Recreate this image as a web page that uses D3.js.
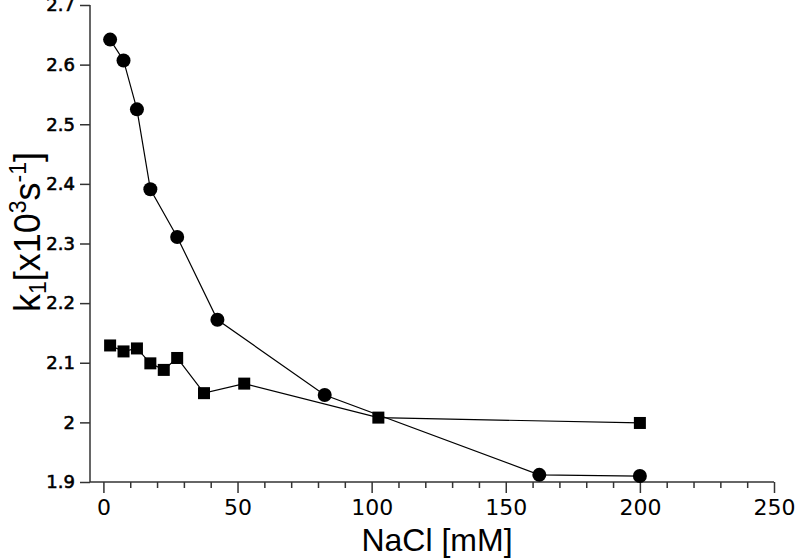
<!DOCTYPE html>
<html>
<head>
<meta charset="utf-8">
<script src="https://cdn.jsdelivr.net/npm/d3@7"></script>
<style>
body { margin: 0; background: #fff; }
svg { display: block; }
</style>
</head>
<body>
<svg id="chart" width="800" height="558"></svg>
<script>
// Data
const circleX = [2.5, 7.5, 12.5, 17.5, 27.5, 42.5, 82.5, 162.5, 200];
const circleY = [2.642, 2.607, 2.525, 2.391, 2.311, 2.172, 2.046, 1.912, 1.910];
const squareX = [2.5, 7.5, 12.5, 17.5, 22.5, 27.5, 37.5, 52.5, 102.5, 200];
const squareY = [2.129, 2.119, 2.124, 2.099, 2.088, 2.108, 2.049, 2.065, 2.008, 1.999];
const xTicks = [0, 50, 100, 150, 200, 250];
const xMinorTicks = d3.range(0, 251, 10);
const yTicks = [1.9, 2.0, 2.1, 2.2, 2.3, 2.4, 2.5, 2.6, 2.7];
const xDomain = [-5, 250];
const yDomain = [1.9, 2.7];

const svg = d3.select("#chart");
const mLeft = 90, mRight = 774, mTop = 5, mBottom = 482;

const x = d3.scaleLinear().domain(xDomain).range([mLeft, mRight]);
const y = d3.scaleLinear().domain(yDomain).range([mBottom, mTop]);

// Y axis
const yAxis = svg.append("g").attr("transform", `translate(${mLeft},0)`)
  .call(d3.axisLeft(y).tickValues(yTicks).tickSize(10).tickPadding(5)
    .tickFormat(d => d === 2 ? "2" : d3.format(".1f")(d)));
yAxis.select(".domain").attr("stroke", "#333").attr("stroke-width", 1.5).attr("d", `M0,${mTop}V${mBottom}`);
yAxis.selectAll(".tick line").attr("stroke", "#333").attr("stroke-width", 1.5);
yAxis.selectAll(".tick text").attr("font-family", "DejaVu Sans")
  .attr("font-size", 18).attr("fill", "#000").attr("stroke", "#000").attr("stroke-width", 0.6);

// X axis minor ticks
const xMinor = svg.append("g").attr("transform", `translate(0,${mBottom})`)
  .call(d3.axisBottom(x).tickValues(xMinorTicks.filter(v => v % 50 !== 0)).tickSize(6).tickFormat(""));
xMinor.select(".domain").remove();
xMinor.selectAll(".tick line").attr("stroke", "#333").attr("stroke-width", 1.5);

// X axis major
const xAxis = svg.append("g").attr("transform", `translate(0,${mBottom})`)
  .call(d3.axisBottom(x).tickValues(xTicks).tickSize(11).tickPadding(6));
xAxis.select(".domain").attr("stroke", "#333").attr("stroke-width", 1.5).attr("d", `M${mLeft},0H${mRight}`);
xAxis.selectAll(".tick line").attr("stroke", "#333").attr("stroke-width", 1.5);
xAxis.selectAll(".tick text").attr("font-family", "DejaVu Sans").attr("font-size", 22).attr("fill", "#000");

// Lines
const line = d3.line().x(d => x(d[0])).y(d => y(d[1]));
const circles = circleX.map((v, i) => [v, circleY[i]]);
const squares = squareX.map((v, i) => [v, squareY[i]]);

svg.append("path").datum(circles).attr("d", line).attr("fill", "none").attr("stroke", "#000").attr("stroke-width", 1.2);
svg.append("path").datum(squares).attr("d", line).attr("fill", "none").attr("stroke", "#000").attr("stroke-width", 1.2);

svg.selectAll("circle.pt").data(circles).join("circle").attr("class", "pt")
  .attr("cx", d => x(d[0])).attr("cy", d => y(d[1])).attr("r", 7).attr("fill", "#000");
const s = 12;
svg.selectAll("rect.pt").data(squares).join("rect").attr("class", "pt")
  .attr("x", d => x(d[0]) - s / 2).attr("y", d => y(d[1]) - s / 2)
  .attr("width", s).attr("height", s).attr("fill", "#000");

// X label
svg.append("text").attr("x", 437).attr("y", 551).attr("text-anchor", "middle")
  .attr("font-family", "Liberation Sans").attr("font-size", 32).attr("fill", "#000")
  .text("NaCl [mM]");

// Y label
const yl = svg.append("text").attr("transform", "translate(40,232) rotate(-90)")
  .attr("text-anchor", "middle").attr("font-family", "Liberation Sans").attr("font-size", 36).attr("fill", "#000");
yl.append("tspan").text("k");
yl.append("tspan").attr("font-size", 23).attr("dy", 6).text("1");
yl.append("tspan").attr("dy", -6).text("[x10");
yl.append("tspan").attr("font-size", 23).attr("dy", -14).text("3");
yl.append("tspan").attr("dy", 14).text("s");
yl.append("tspan").attr("font-size", 23).attr("dy", -14).text("-1");
yl.append("tspan").attr("dy", 14).text("]");
</script>
</body>
</html>
